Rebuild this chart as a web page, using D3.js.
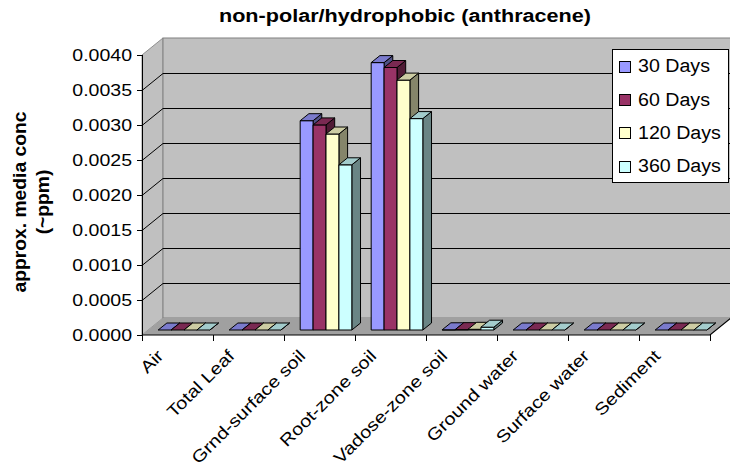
<!DOCTYPE html>
<html lang="en">
<head>
  <meta charset="UTF-8">
  <title>non-polar/hydrophobic (anthracene)</title>
  <script src="https://d3js.org/d3.v7.min.js"></script>
  <style>
      body { margin: 0; padding: 0; background: #fff; overflow: hidden; }
      svg { display: block; font-family: 'Liberation Sans', Arial, sans-serif; }
  </style>
</head>
<body>
  <svg width="730" height="473"></svg>
  <script>
      const categories = ["Air", "Total Leaf", "Grnd-surface soil", "Root-zone soil",
                          "Vadose-zone soil", "Ground water", "Surface water", "Sediment"];
      const seriesNames = ["30 Days", "60 Days", "120 Days", "360 Days"];
      const days30  = [0, 0, 0.00299, 0.00382, 0.000003, 0, 0, 0];
      const days60  = [0, 0, 0.00293, 0.00375, 0.000005, 0, 0, 0];
      const days120 = [0, 0, 0.00280, 0.00357, 0.00001, 0, 0, 0];
      const days360 = [0, 0, 0.00236, 0.00302, 0.00004, 0, 0, 0];
      const seriesColors = ["#9999ff", "#993366", "#ffffcc", "#ccffff"];
      const yTickValues = [0, 0.0005, 0.001, 0.0015, 0.002, 0.0025, 0.003, 0.0035, 0.004];

      const seriesValues = [days30, days60, days120, days360];

      const svg = d3.select("svg");

      // plot frame (oblique 3-D look)
      const left = 142, right = 710, y0 = 335, yTop = 55;
      const DX = 21, DY = -17;       // wall depth
      const BDX = 6.5, BDY = -5;     // bars sit a little back from the floor edge
      const DDX = 8.7, DDY = -7;     // bar depth

      const y = d3.scaleLinear().domain([0, 0.004]).range([y0, yTop]);
      const x = d3.scaleBand().domain(categories).range([left, right]);
      const inner = d3.scaleBand().domain(seriesNames).range([0, x.bandwidth()])
          .paddingInner(0).paddingOuter(0.75);

      // stretch text horizontally a bit, like the old Excel rendering
      function stretch(sel, k) {
          sel.each(function() {
              const len = this.getComputedTextLength();
              d3.select(this).attr("textLength", len * k).attr("lengthAdjust", "spacingAndGlyphs");
          });
      }

      // side wall
      svg.append("polygon")
          .attr("points", [[left, y(0.004)], [left + DX, y(0.004) + DY], [left + DX, y0 + DY], [left, y0]].join(" "))
          .attr("fill", "#c0c0c0").attr("stroke", "#909090");
      // back wall
      svg.append("rect")
          .attr("x", left + DX).attr("y", y(0.004) + DY)
          .attr("width", right - left + 2).attr("height", y0 - y(0.004))
          .attr("fill", "#c0c0c0").attr("stroke", "#808080");
      // floor
      svg.append("polygon")
          .attr("points", [[left, y0], [left + DX, y0 + DY], [right + DX, y0 + DY], [right, y0]].join(" "))
          .attr("fill", "#a0a0a0").attr("stroke", "none");
      svg.append("path")
          .attr("d", `M${left},${y0}H${right}L${right + DX},${y0 + DY}`)
          .attr("fill", "none").attr("stroke", "#000").attr("stroke-width", 1.2);

      // gridlines
      const grid = svg.append("g").attr("stroke", "#000").attr("fill", "none");
      yTickValues.filter(t => t > 0 && t < 0.004).forEach(t => {
          const gy = Math.round(y(t)) + 0.5;
          grid.append("path")
              .attr("d", `M${left},${gy}L${left + DX},${gy + DY}H${right + DX + 5}`);
      });

      // y axis
      const yAxis = svg.append("g");
      yAxis.append("line")
          .attr("x1", left + 0.5).attr("x2", left + 0.5)
          .attr("y1", y(0.004)).attr("y2", y0)
          .attr("stroke", "#000");
      yTickValues.forEach(t => {
          const ty = Math.round(y(t)) + 0.5;
          yAxis.append("line")
              .attr("x1", left - 5).attr("x2", left)
              .attr("y1", ty).attr("y2", ty)
              .attr("stroke", "#000");
      });
      yAxis.selectAll("text.tick")
          .data(yTickValues)
          .join("text")
          .attr("class", "tick")
          .attr("x", 132)
          .attr("y", d => y(d))
          .attr("dy", "0.36em")
          .attr("text-anchor", "end")
          .attr("font-size", "16px")
          .attr("fill", "#000")
          .text(d3.format(".4f"))
          .call(stretch, 1.22);

      // x axis ticks and labels
      const bounds = categories.map(c => x(c)).concat([right]);
      bounds.forEach(bx => {
          svg.append("line")
              .attr("x1", Math.round(bx) + 0.5).attr("x2", Math.round(bx) + 0.5)
              .attr("y1", y0).attr("y2", y0 + 6)
              .attr("stroke", "#000");
      });
      svg.append("g").selectAll("text")
          .data(categories)
          .join("text")
          .attr("transform", d => `translate(${x(d) + x.bandwidth() / 2 - 13},${y0 + 22}) rotate(-45)`)
          .attr("text-anchor", "end")
          .attr("font-size", "17px")
          .attr("fill", "#000")
          .text(d => d)
          .call(stretch, 1.18);

      // bars
      const shade = (c, k) => {
          const r = d3.rgb(c);
          return d3.rgb(r.r * k, r.g * k, r.b * k).formatHex();
      };
      const bars = svg.append("g").attr("stroke", "#000").attr("stroke-width", 1).attr("stroke-linejoin", "round");
      categories.forEach((cat, ci) => {
          seriesNames.forEach((s, si) => {
              const v = seriesValues[si][ci];
              const col = seriesColors[si];
              const bx = x(cat) + inner(s) + BDX;
              const w = inner.bandwidth();
              const base = y0 + BDY;
              const top = base - (y0 - y(v));
              bars.append("polygon")
                  .attr("points", [[bx + w, top], [bx + w + DDX, top + DDY], [bx + w + DDX, base + DDY], [bx + w, base]].join(" "))
                  .attr("fill", shade(col, 0.52));
              bars.append("rect")
                  .attr("x", bx).attr("y", top)
                  .attr("width", w).attr("height", base - top)
                  .attr("fill", col);
              bars.append("polygon")
                  .attr("points", [[bx, top], [bx + DDX, top + DDY], [bx + w + DDX, top + DDY], [bx + w, top]].join(" "))
                  .attr("fill", shade(col, 0.8));
          });
      });

      // legend
      const legend = svg.append("g").attr("transform", "translate(612,49)");
      legend.append("rect")
          .attr("x", 0.5).attr("y", 0.5)
          .attr("width", 116).attr("height", 133)
          .attr("fill", "#fff").attr("stroke", "#000");
      seriesNames.forEach((s, i) => {
          const ly = 17 + i * 33.2;
          legend.append("rect")
              .attr("x", 7.5).attr("y", Math.round(ly - 5) + 0.5)
              .attr("width", 11).attr("height", 11)
              .attr("fill", seriesColors[i]).attr("stroke", "#000");
          legend.append("text")
              .attr("x", 26).attr("y", ly)
              .attr("dy", "0.36em")
              .attr("font-size", "18px")
              .attr("fill", "#000")
              .text(s)
              .call(stretch, 1.09);
      });

      // title
      svg.append("text")
          .attr("x", 405).attr("y", 16)
          .attr("dy", "0.36em")
          .attr("text-anchor", "middle")
          .attr("font-size", "18px")
          .attr("font-weight", "bold")
          .text("non-polar/hydrophobic (anthracene)")
          .call(stretch, 1.2);

      // y axis title
      const yTitle = svg.append("g").attr("font-weight", "bold").attr("font-size", "18px").attr("text-anchor", "middle");
      yTitle.append("text")
          .attr("transform", "translate(20,202) rotate(-90)")
          .attr("dy", "0.36em")
          .text("approx. media conc")
          .call(stretch, 1.07);
      yTitle.append("text")
          .attr("transform", "translate(43,202) rotate(-90)")
          .attr("dy", "0.36em")
          .text("(~ppm)")
          .call(stretch, 1.07);
  </script>
</body>
</html>
